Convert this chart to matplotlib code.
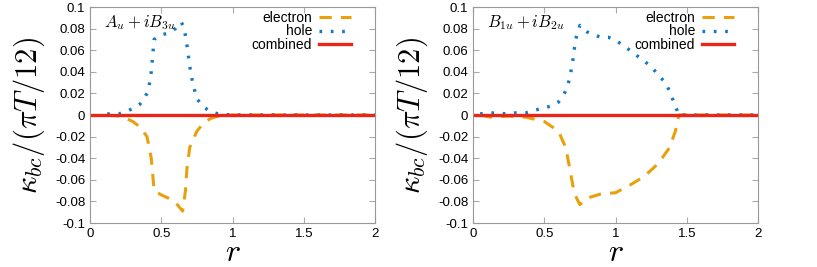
import numpy as np
import matplotlib.pyplot as plt

# left panel: A_u + iB_3u
r_left_h = [0.12, 0.2, 0.25, 0.3, 0.35, 0.38, 0.41, 0.43, 0.44, 0.45, 0.5, 0.55, 0.6,
            0.64, 0.66, 0.68, 0.7, 0.72, 0.75, 0.8, 0.85, 0.9, 1.0, 1.5, 2.0]
hole_left = [0.001, 0.001, 0.003, 0.006, 0.01, 0.015, 0.023, 0.04, 0.055, 0.07, 0.074, 0.076, 0.08,
             0.086, 0.081, 0.065, 0.045, 0.03, 0.015, 0.007, 0.003, 0.001, 0.0, 0.0, 0.0]
r_left_e = [0.12, 0.2, 0.25, 0.3, 0.35, 0.4, 0.43, 0.44, 0.45, 0.5, 0.55, 0.6,
            0.65, 0.67, 0.68, 0.7, 0.75, 0.8, 0.85, 0.9, 1.0, 1.5, 2.0]
elec_left = [0.0, -0.001, -0.003, -0.006, -0.011, -0.02, -0.04, -0.055, -0.07, -0.074, -0.077, -0.081,
             -0.089, -0.07, -0.05, -0.03, -0.015, -0.007, -0.003, -0.001, 0.0, 0.0, 0.0]

# right panel: B_1u + iB_2u
r_right_h = [0.05, 0.12, 0.25, 0.3, 0.37, 0.42, 0.48, 0.54, 0.6, 0.63, 0.66, 0.68, 0.7, 0.71, 0.72,
             0.75, 0.8, 0.85, 0.9, 0.95, 1.0, 1.05, 1.1, 1.15, 1.2, 1.25, 1.3, 1.35, 1.38, 1.4,
             1.43, 1.44, 1.5, 2.0]
hole_right = [0.001, 0.002, 0.001, 0.002, 0.002, 0.004, 0.006, 0.008, 0.012, 0.017, 0.025, 0.035,
              0.05, 0.06, 0.07, 0.083, 0.077, 0.074, 0.072, 0.072, 0.069, 0.065, 0.06, 0.055, 0.05,
              0.045, 0.037, 0.03, 0.022, 0.015, 0.005, 0.0, 0.0, 0.0]
r_right_e = [0.05, 0.12, 0.25, 0.37, 0.5, 0.6, 0.65, 0.68, 0.7, 0.72, 0.75, 0.8, 0.9, 1.0,
             1.1, 1.2, 1.3, 1.38, 1.42, 1.44, 1.45, 2.0]
elec_right = [0.0, -0.002, -0.001, -0.002, -0.006, -0.015, -0.03, -0.05, -0.065, -0.075, -0.083,
              -0.077, -0.073, -0.072, -0.065, -0.057, -0.045, -0.03, -0.015, -0.003, 0.0, 0.0]

r_comb = [0.0, 2.0]
comb = [0.0, 0.0]

labels = [r'$A_u + iB_{3u}$', r'$B_{1u} + iB_{2u}$']
panels = [(r_left_e, elec_left, r_left_h, hole_left),
          (r_right_e, elec_right, r_right_h, hole_right)]

c_elec = '#e8a10c'
c_hole = '#1379c0'
c_comb = '#e8261a'

plt.rcParams['font.family'] = ['Liberation Sans', 'DejaVu Sans']
plt.rcParams['mathtext.fontset'] = 'cm'

fig = plt.figure(figsize=(8.17, 2.67), dpi=100)
lefts = [90 / 817, 473 / 817]
for i, (re, ye, rh, yh) in enumerate(panels):
    ax = fig.add_axes([lefts[i], 1 - 223 / 267, 285 / 817, 216 / 267])
    ax.plot(re, ye, color=c_elec, lw=2.2, dashes=(4, 3), label='electron')
    ax.plot(rh, yh, color=c_hole, lw=2.4, dashes=(0.8, 2.6), label='hole')
    ax.plot(r_comb, comb, color=c_comb, lw=2.4, label='combined')
    ax.set_xlim(0, 2)
    ax.set_ylim(-0.1, 0.1)
    ax.set_xticks([0, 0.5, 1, 1.5, 2])
    ax.set_xticklabels(['0', '0.5', '1', '1.5', '2'])
    yt = np.round(np.arange(-0.1, 0.101, 0.02), 2)
    ax.set_yticks(yt)
    ax.set_yticklabels(['0' if v == 0 else ('%g' % v) for v in yt])
    ax.tick_params(direction='in', top=True, right=True, labelsize=9.5,
                   color='#aaaaaa', length=4)
    for s in ax.spines.values():
        s.set_color('#999999')
        s.set_linewidth(0.8)
    ax.set_xlabel(r'$r$', fontsize=23, labelpad=-1)
    ax.set_ylabel(r'$\kappa_{bc}/(\pi T/12)$', fontsize=22, labelpad=6)
    ax.text(0.1, 0.094, labels[i], fontsize=12, va='top', ha='left')
    ax.legend(loc='upper right', bbox_to_anchor=(0.93, 1.0), markerfirst=False,
              frameon=False, fontsize=10, handlelength=2.3, labelspacing=-0.05,
              borderaxespad=0.0, borderpad=0.3, handletextpad=0.5)

fig.savefig('out.png', dpi=100)
